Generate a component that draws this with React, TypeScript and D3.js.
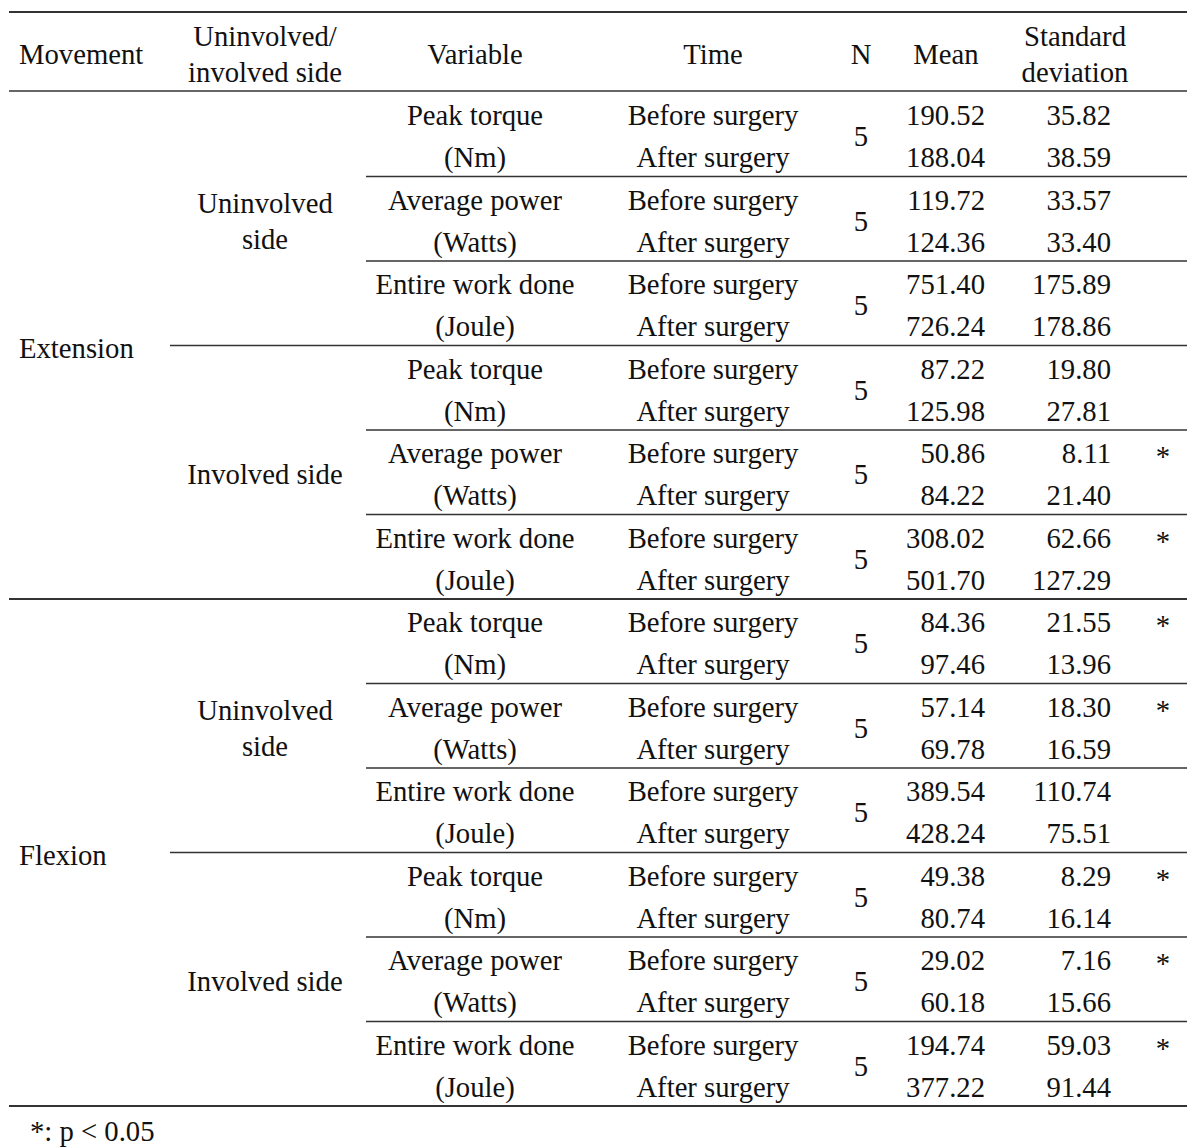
import React from "react";
import * as d3 from "d3";

const movements = ["Extension", "Flexion"];
const sides = ["Uninvolved side", "Involved side"];
const variables = ["Peak torque", "Average power", "Entire work done"];
const units = ["(Nm)", "(Watts)", "(Joule)"];
const times = ["Before surgery", "After surgery"];
const nValues = [5, 5, 5, 5, 5, 5, 5, 5, 5, 5, 5, 5];
const means = [
  "190.52", "188.04", "119.72", "124.36", "751.40", "726.24",
  "87.22", "125.98", "50.86", "84.22", "308.02", "501.70",
  "84.36", "97.46", "57.14", "69.78", "389.54", "428.24",
  "49.38", "80.74", "29.02", "60.18", "194.74", "377.22",
];
const sds = [
  "35.82", "38.59", "33.57", "33.40", "175.89", "178.86",
  "19.80", "27.81", "8.11", "21.40", "62.66", "127.29",
  "21.55", "13.96", "18.30", "16.59", "110.74", "75.51",
  "8.29", "16.14", "7.16", "15.66", "59.03", "91.44",
];
const stars = [
  false, false, false, false, false, false,
  false, false, true, false, true, false,
  true, false, true, false, false, false,
  true, false, true, false, true, false,
];
const headers = [
  { lines: ["Movement"], x: 19, anchor: "start" },
  { lines: ["Uninvolved/", "involved side"], x: 265, anchor: "middle" },
  { lines: ["Variable"], x: 475, anchor: "middle" },
  { lines: ["Time"], x: 713, anchor: "middle" },
  { lines: ["N"], x: 861, anchor: "middle" },
  { lines: ["Mean"], x: 946, anchor: "middle" },
  { lines: ["Standard", "deviation"], x: 1075, anchor: "middle" },
];
const footnote = "*: p < 0.05";

const W = 1200;
const H = 1148;
const FONT = "'Liberation Serif', 'Times New Roman', serif";
const FS = 28.7;

export default function App() {
  const nRows = means.length;
  const y = d3.scaleLinear().domain([0, nRows]).range([92, 1106]);
  const rowMid = (i: number) => (y(i) + y(i + 1)) / 2;
  const left = 9;
  const right = 1187;
  const xMovement = 19;
  const xSide = 265;
  const xVar = 475;
  const xTime = 713;
  const xN = 861;
  const xMean = 985;
  const xSd = 1111;
  const xStar = 1163;
  const textColor = "#111";
  const lineColor = "#333";

  const cells: React.ReactNode[] = [];
  const lines: React.ReactNode[] = [];

  for (let i = 0; i < nRows; i++) {
    const cy = rowMid(i) + 2;
    cells.push(
      <text key={"t" + i} x={xTime} y={cy} textAnchor="middle" dominantBaseline="central">
        {times[i % 2]}
      </text>,
      <text key={"m" + i} x={xMean} y={cy} textAnchor="end" dominantBaseline="central">
        {means[i]}
      </text>,
      <text key={"s" + i} x={xSd} y={cy} textAnchor="end" dominantBaseline="central">
        {sds[i]}
      </text>
    );
    if (stars[i]) {
      cells.push(
        <text key={"st" + i} x={xStar} y={cy + 3} textAnchor="middle" dominantBaseline="central">
          *
        </text>
      );
    }
  }
  for (let g = 0; g < nRows / 2; g++) {
    const r0 = g * 2;
    const v = g % 3;
    cells.push(
      <text key={"v" + g} x={xVar} y={rowMid(r0) + 2} textAnchor="middle" dominantBaseline="central">
        {variables[v]}
      </text>,
      <text key={"u" + g} x={xVar} y={rowMid(r0 + 1) + 2} textAnchor="middle" dominantBaseline="central">
        {units[v]}
      </text>,
      <text key={"n" + g} x={xN} y={y(r0 + 1) + 2} textAnchor="middle" dominantBaseline="central">
        {nValues[g]}
      </text>
    );
    if (g > 0) {
      const yy = y(r0);
      let x1 = 366;
      let sw = 1.3;
      if (g % 6 === 0) { x1 = left; sw = 2; }
      else if (g % 3 === 0) { x1 = 170; sw = 1.3; }
      lines.push(<line key={"l" + g} x1={x1} x2={right} y1={yy} y2={yy} stroke={lineColor} strokeWidth={sw} />);
    }
  }
  for (let s = 0; s < 4; s++) {
    const r0 = s * 6;
    const cy = y(r0 + 3) + 2;
    const name = sides[s % 2];
    if (s % 2 === 0) {
      const parts = ["Uninvolved", "side"];
      cells.push(
        <text key={"sd" + s} x={xSide} y={cy} textAnchor="middle" dominantBaseline="central">
          <tspan x={xSide} dy={-18}>{parts[0]}</tspan>
          <tspan x={xSide} dy={36}>{parts[1]}</tspan>
        </text>
      );
    } else {
      cells.push(
        <text key={"sd" + s} x={xSide} y={cy} textAnchor="middle" dominantBaseline="central">
          {name}
        </text>
      );
    }
  }
  for (let m = 0; m < movements.length; m++) {
    const cy = y(m * 12 + 6) + 2;
    cells.push(
      <text key={"mv" + m} x={xMovement} y={cy} textAnchor="start" dominantBaseline="central">
        {movements[m]}
      </text>
    );
  }

  const headerMid = 54;
  const headerCells = headers.map((h, i) => (
    <text key={"h" + i} x={h.x} y={headerMid} textAnchor={h.anchor as any} dominantBaseline="central">
      {h.lines.length === 1 ? (
        h.lines[0]
      ) : (
        h.lines.map((ln, j) => (
          <tspan key={j} x={h.x} dy={j === 0 ? -18 : 36}>{ln}</tspan>
        ))
      )}
    </text>
  ));

  return (
    <svg width={W} height={H} style={{ position: "absolute", left: 0, top: 0, background: "#fff" }}>
      <rect x={0} y={0} width={W} height={H} fill="#fff" />
      <g fontFamily={FONT} fontSize={FS} fill={textColor}>
        {headerCells}
        {cells}
        <text x={30} y={1131} dominantBaseline="central">{footnote}</text>
      </g>
      <line x1={left} x2={right} y1={12} y2={12} stroke={lineColor} strokeWidth={2} />
      <line x1={left} x2={right} y1={91} y2={91} stroke={lineColor} strokeWidth={1.5} />
      {lines}
      <line x1={left} x2={right} y1={1106} y2={1106} stroke={lineColor} strokeWidth={2} />
    </svg>
  );
}
